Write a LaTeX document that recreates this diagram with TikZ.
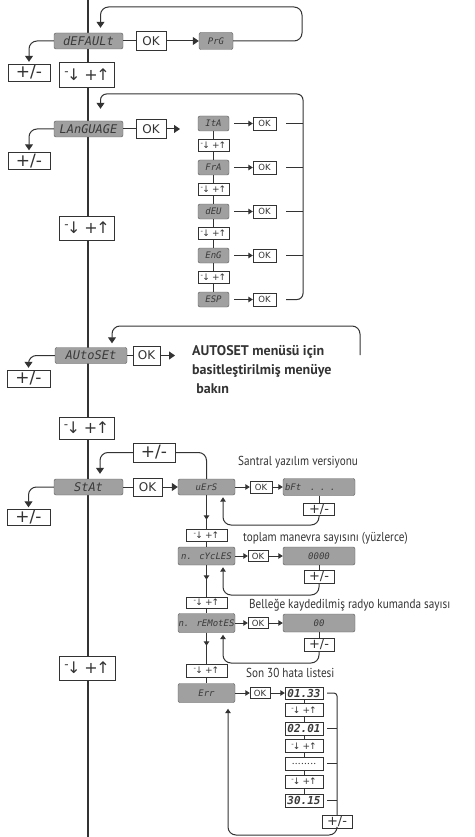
\documentclass[tikz,border=0pt]{standalone}
\usepackage{fontspec}
\setmainfont{PT Sans}
\newfontfamily\lcdfont{DejaVu Sans Mono}
\newfontfamily\symfont{DejaVu Sans}
\newfontfamily\condfont{PT Sans}[FakeStretch=0.86]
\usetikzlibrary{arrows.meta}
\definecolor{lcdfill}{HTML}{A0A0A0}
\definecolor{lcdline}{HTML}{5A5A5A}
\definecolor{lcdtext}{HTML}{3A3A3A}
\definecolor{lnk}{HTML}{333333}
\newcommand{\keypm}{+/-}
\newcommand{\keyud}{\raisebox{.6ex}{\scalebox{.75}{-}}\kern-.1em↓\hspace{.25em}+\kern-.1em↑}
\tikzset{
  lcd/.style    = {rectangle, rounded corners=2pt, draw=lcdline, fill=lcdfill, text=lcdtext,
                   inner sep=0pt, font=\lcdfont\itshape\fontsize{12}{12}\selectfont},
  lcdsm/.style  = {lcd, font=\lcdfont\itshape\fontsize{9}{9}\selectfont},
  keybox/.style = {rectangle, draw=lnk, fill=white, text=lnk, inner sep=0pt,
                   font=\symfont\fontsize{17}{17}\selectfont},
  udbox/.style  = {keybox, font=\symfont\fontsize{16}{16}\selectfont},
  keysm/.style  = {keybox, font=\symfont\fontsize{9}{9}\selectfont},
  pmsm/.style   = {keybox, font=\symfont\fontsize{13}{13}\selectfont},
  okbox/.style  = {keybox, font=\symfont\fontsize{12}{12}\selectfont},
  oksm/.style   = {keybox, font=\symfont\fontsize{8.5}{8.5}\selectfont},
  valbox/.style = {rectangle, draw=lnk, fill=white, text=lcdtext, inner sep=0pt,
                   font=\lcdfont\bfseries\itshape\fontsize{11}{11}\selectfont},
  lbl/.style    = {anchor=west, inner sep=0pt, text=lnk, font=\condfont\fontsize{13}{13}\selectfont},
  note/.style   = {anchor=north west, inner sep=0pt, align=left, text=lnk,
                   font=\bfseries\fontsize{14}{19}\selectfont},
  link/.style   = {draw=lnk, line width=1pt},
  mainline/.style = {draw=lnk, line width=2pt},
  flow/.style   = {link, -{Triangle[length=6pt, width=8pt]}},
  flowsm/.style = {link, -{Triangle[length=4.5pt, width=5.5pt]}},
}
\begin{document}
\begin{tikzpicture}[x=1pt, y=-1pt]
    \useasboundingbox (0,0) rectangle (474,837);
    \coordinate (top) at (88,0);
    \coordinate (bot) at (88,837);
    \draw[mainline] (top) -- (bot);

    \node[lcd,    minimum width=69pt, minimum height=16pt] (df)  at (88.5,41)  {dEFAULt};
    \node[okbox,  minimum width=30pt, minimum height=19pt] (ok1) at (151,41)   {OK};
    \node[lcdsm,  minimum width=34pt, minimum height=17pt] (prg) at (216,41)   {PrG};
    \node[keybox, minimum width=42pt, minimum height=17pt] (pm1) at (29,72.5)  {\keypm};
    \node[udbox,  minimum width=55pt, minimum height=25pt] (ud1) at (87,74.5)  {\keyud};
    \draw[link] (df) -- (ok1);
    \draw[flow] (ok1) -- (prg);
    \draw[flow, rounded corners=8pt, shorten >=5pt] (prg.east) -| (302,7) -| ([xshift=12pt]df.north);
    \draw[flow, rounded corners=8pt, shorten >=2pt] (df.west) -| (pm1.north);

    \node[lcd,    minimum width=69pt, minimum height=16pt] (lg)  at (88.5,129) {LAnGUAGE};
    \node[okbox,  minimum width=30pt, minimum height=19pt] (ok2) at (151,129)  {OK};
    \coordinate (lgto) at (180,129);
    \node[keybox, minimum width=42pt, minimum height=17pt] (pm2) at (29,161)   {\keypm};
    \node[udbox,  minimum width=55pt, minimum height=24pt] (ud2) at (87,228)   {\keyud};
    \draw[link] (lg) -- (ok2);
    \draw[flow] (ok2) -- (lgto);
    \draw[flow, rounded corners=8pt, shorten >=2pt] (lg.west) -| (pm2.north);

    \node[lcdsm,  minimum width=31pt, minimum height=15pt] (ita) at (213.5,123.5) {ItA};
    \node[keysm,  minimum width=31pt, minimum height=12pt] (u1)  at (213.5,145.5) {\keyud};
    \node[lcdsm,  minimum width=31pt, minimum height=15pt] (fra) at (213.5,167.5) {FrA};
    \node[keysm,  minimum width=31pt, minimum height=12pt] (u2)  at (213.5,189.5) {\keyud};
    \node[lcdsm,  minimum width=31pt, minimum height=15pt] (deu) at (213.5,211.5) {dEU};
    \node[keysm,  minimum width=31pt, minimum height=12pt] (u3)  at (213.5,233.5) {\keyud};
    \node[lcdsm,  minimum width=31pt, minimum height=15pt] (eng) at (213.5,255.5) {EnG};
    \node[keysm,  minimum width=31pt, minimum height=12pt] (u4)  at (213.5,277.5) {\keyud};
    \node[lcdsm,  minimum width=31pt, minimum height=15pt] (esp) at (213.5,299.5) {ESP};
    \node[oksm,   minimum width=23pt, minimum height=13pt] (k1)  at (264.5,123.5) {OK};
    \node[oksm,   minimum width=23pt, minimum height=13pt] (k2)  at (264.5,167.5) {OK};
    \node[oksm,   minimum width=23pt, minimum height=13pt] (k3)  at (264.5,211.5) {OK};
    \node[oksm,   minimum width=23pt, minimum height=13pt] (k4)  at (264.5,255.5) {OK};
    \node[oksm,   minimum width=23pt, minimum height=13pt] (k5)  at (264.5,299.5) {OK};
    \draw[link] (ita) -- (u1) -- (fra) -- (u2) -- (deu) -- (u3) -- (eng) -- (u4) -- (esp);
    \draw[flowsm, shorten <=5pt] (ita) -- (k1);
    \draw[flowsm, shorten <=5pt] (fra) -- (k2);
    \draw[flowsm, shorten <=5pt] (deu) -- (k3);
    \draw[flowsm, shorten <=5pt] (eng) -- (k4);
    \draw[flowsm, shorten <=5pt] (esp) -- (k5);
    \coordinate (rj) at (303,94);
    \draw[link, shorten <=10pt] (k1) -- (k1 -| rj);
    \draw[link, shorten <=10pt] (k2) -- (k2 -| rj);
    \draw[link, shorten <=10pt] (k3) -- (k3 -| rj);
    \draw[link, shorten <=10pt] (k4) -- (k4 -| rj);
    \draw[flow, rounded corners=6pt, shorten <=10pt, shorten >=12pt] (k5.east) -| (rj) -| ([xshift=12pt]lg.north);

    \node[lcd,    minimum width=72pt, minimum height=16pt] (as)  at (91,355.5)    {AUtoSEt};
    \node[okbox,  minimum width=27pt, minimum height=19pt] (ok3) at (146.5,355.5) {OK};
    \coordinate (asto) at (175,355.5);
    \coordinate (asend) at (360,355);
    \node[note] (asnote) at (192,345) {AUTOSET menüsü için\\basitleştirilmiş menüye\\\hspace{.3em}bakın};
    \node[keybox, minimum width=43pt, minimum height=17pt] (pm3) at (28.5,378.5) {\keypm};
    \node[udbox,  minimum width=55pt, minimum height=22pt] (ud3) at (86.5,428)   {\keyud};
    \draw[link] (as) -- (ok3);
    \draw[flow] (ok3) -- (asto);
    \draw[flow, rounded corners=8pt, shorten >=4pt] (asend) -- (360,326) -| ([xshift=21pt]as.north);
    \draw[flow, rounded corners=8pt, shorten >=2pt] (as.west) -| (pm3.north);

    \node[lcd,    minimum width=69pt, minimum height=16pt] (st)  at (88.5,487)  {StAt};
    \node[okbox,  minimum width=29pt, minimum height=18pt] (ok4) at (147.5,487) {OK};
    \node[lcdsm,  minimum width=57pt, minimum height=16pt] (vr)  at (206.5,487) {uErS};
    \node[oksm,   minimum width=22pt, minimum height=12pt] (k6)  at (261,487)   {OK};
    \node[lcdsm,  text width=68pt, align=left, inner xsep=2pt, minimum height=17pt] (bft) at (319,487) {bFt\ \ \ . . .};
    \node[pmsm,   minimum width=31pt, minimum height=12pt] (pm5) at (319,509)   {\keypm};
    \node[keybox, minimum width=42pt, minimum height=19pt] (pmt) at (154,452.5) {\keypm};
    \node[keybox, minimum width=43pt, minimum height=16pt] (pm4) at (28.5,517.5) {\keypm};
    \node[lbl] (t1) at (238,462) {Santral yazılım versiyonu};
    \draw[link] (st) -- (ok4);
    \draw[flow] (ok4) -- (vr);
    \draw[flowsm] (vr) -- (k6);
    \draw[flowsm] (k6) -- (bft);
    \draw[link] (bft) -- (pm5);
    \draw[link, rounded corners=8pt] (vr.north) |- (pmt.east);
    \draw[flow, rounded corners=8pt, shorten >=5pt] (pmt.west) -| ([xshift=11.5pt]st.north);
    \draw[flow, rounded corners=8pt, shorten >=2pt] (st.west) -| (pm4.north);
    \coordinate (c1) at (223,525);
    \draw[flowsm, rounded corners=8pt, shorten >=2pt] (pm5.south) |- (c1) -- (vr.south -| c1);

    \node[keysm,  minimum width=41pt, minimum height=12pt] (a5) at (206.5,535) {\keyud};
    \node[lcdsm,  minimum width=57pt, minimum height=18pt] (cy) at (206.5,556) {n. cYcLES};
    \node[oksm,   minimum width=20pt, minimum height=11pt] (k7) at (258,556)   {OK};
    \node[lcdsm,  minimum width=72pt, minimum height=18pt] (v1) at (319,556)   {0000};
    \node[pmsm,   minimum width=30pt, minimum height=13pt] (pm6) at (319,576.5) {\keypm};
    \node[lbl] (t2) at (243,538) {toplam manevra sayısını (yüzlerce)};
    \draw[link] (vr) -- (a5);
    \draw[flowsm] (vr) -- ([yshift=9pt]a5.north);
    \draw[link] (a5) -- (cy);
    \draw[flowsm] (cy) -- (k7);
    \draw[flowsm] (k7) -- (v1);
    \draw[link] (v1) -- (pm6);
    \coordinate (c2) at (223,595);
    \draw[flowsm, rounded corners=8pt, shorten >=2pt] (pm6.south) |- (c2) -- (cy.south -| c2);

    \node[keysm,  minimum width=41pt, minimum height=11pt] (a6) at (206.5,602.5) {\keyud};
    \node[lcdsm,  minimum width=57pt, minimum height=19pt] (rm) at (206.5,623)   {n. rEMotES};
    \node[oksm,   minimum width=20pt, minimum height=11pt] (k8) at (258,623)     {OK};
    \node[lcdsm,  minimum width=72pt, minimum height=18pt] (v2) at (319,623)     {00};
    \node[pmsm,   minimum width=30pt, minimum height=13pt] (pm7) at (319,644.5)  {\keypm};
    \node[lbl] (t3) at (249,605) {Belleğe kaydedilmiş radyo kumanda sayısı};
    \draw[link] (cy) -- (a6);
    \draw[flowsm] (cy) -- ([yshift=17pt]a6.north);
    \draw[link] (a6) -- (rm);
    \draw[flowsm] (rm) -- (k8);
    \draw[flowsm] (k8) -- (v2);
    \draw[link] (v2) -- (pm7);
    \coordinate (c3) at (223,663);
    \draw[flowsm, rounded corners=8pt, shorten >=2pt] (pm7.south) |- (c3) -- (rm.south -| c3);

    \node[keysm,  minimum width=41pt, minimum height=13pt] (a7) at (206.5,670.5) {\keyud};
    \node[lcdsm,  minimum width=57pt, minimum height=19pt] (er) at (206.5,693)   {Err};
    \node[oksm,   minimum width=20pt, minimum height=11pt] (k9) at (260,693)     {OK};
    \node[lbl] (t4) at (246,673) {Son 30 hata listesi};
    \node[valbox, minimum width=38pt, minimum height=12pt] (e1) at (304,693)   {01.33};
    \node[keysm,  minimum width=38pt, minimum height=13pt] (s1) at (304,710)   {\keyud};
    \node[valbox, minimum width=38pt, minimum height=13pt] (e2) at (304,728.5) {02.01};
    \node[keysm,  minimum width=38pt, minimum height=13pt] (s2) at (304,746)   {\keyud};
    \node[valbox, minimum width=38pt, minimum height=13pt, font=\fontsize{11}{11}\selectfont] (e3) at (304,763.5) {........};
    \node[keysm,  minimum width=38pt, minimum height=13pt] (s3) at (304,781.5) {\keyud};
    \node[valbox, minimum width=38pt, minimum height=13pt] (e4) at (304,800.5) {30.15};
    \node[pmsm,   minimum width=30pt, minimum height=13pt] (pm8) at (337,821.5) {\keypm};
    \draw[link] (rm) -- (a7);
    \draw[flowsm] (rm) -- ([yshift=18pt]a7.north);
    \draw[link] (a7) -- (er);
    \draw[flowsm] (er) -- (k9);
    \draw[flowsm] (k9) -- (e1);
    \draw[link] (e1) -- (s1) -- (e2) -- (s2) -- (e3) -- (s3) -- (e4);
    \coordinate (rb) at (337,693);
    \draw[link, rounded corners=3pt, shorten <=4pt] (e1.east) -- (rb) -- (pm8.north);
    \draw[link, shorten <=4pt] (e2) -- (e2 -| rb);
    \draw[link, shorten <=4pt] (e3) -- (e3 -| rb);
    \draw[link, shorten <=4pt] (e4) -- (e4 -| rb);
    \coordinate (c4) at (228,835);
    \draw[flowsm, rounded corners=8pt, shorten >=6pt] (pm8.south) |- (c4) -- (er.south -| c4);

    \node[udbox,  minimum width=56pt, minimum height=24pt] (ud4) at (87,668) {\keyud};
\end{tikzpicture}
\end{document}
